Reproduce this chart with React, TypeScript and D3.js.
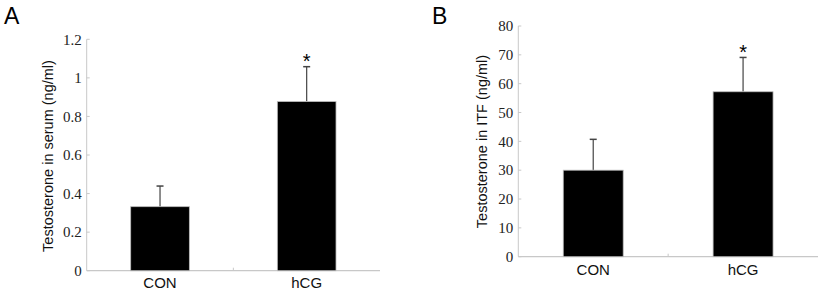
import React from "react";
import * as d3 from "d3";

const categories = ["CON", "hCG"];
const serumMeans = [0.332, 0.877];
const serumErrors = [0.107, 0.181];
const serumTicks = [0, 0.2, 0.4, 0.6, 0.8, 1, 1.2];
const itfMeans = [30, 57.2];
const itfErrors = [10.7, 11.9];
const itfTicks = [0, 10, 20, 30, 40, 50, 60, 70, 80];
const significant = [false, true];

const SANS = "'Liberation Sans', Arial, sans-serif";
const SERIF = "'Liberation Serif', 'Times New Roman', serif";

interface PanelProps {
  letter: string;
  letterX: number;
  x0: number;
  x1: number;
  yTop: number;
  yBottom: number;
  max: number;
  ticks: number[];
  means: number[];
  errors: number[];
  ylabel: string;
  labelX: number;
  labelY: number;
  xLabelY: number;
}

function Panel(p: PanelProps) {
  const y = d3.scaleLinear().domain([0, p.max]).range([p.yBottom, p.yTop]);
  const x = d3.scaleBand<string>().domain(categories).range([p.x0, p.x1]).paddingInner(0.6).paddingOuter(0.3);
  const axisColor = "#c8c8c8";
  const fmt = (v: number) => String(v);
  return (
    <g>
      <text x={p.letterX} y={24} style={{ fontFamily: SANS }} fontSize={23}>{p.letter}</text>
      <line x1={p.x0} x2={p.x0} y1={p.yTop} y2={p.yBottom} stroke={axisColor} strokeWidth={1} />
      <line x1={p.x0} x2={p.x1} y1={p.yBottom} y2={p.yBottom} stroke={axisColor} strokeWidth={1.2} />
      {p.ticks.map((t) => (
        <g key={t}>
          <line x1={p.x0} x2={p.x0 + 3} y1={y(t)} y2={y(t)} stroke={axisColor} />
          <text x={p.x0 - 5} y={y(t)} dy="0.35em" textAnchor="end" style={{ fontFamily: SERIF }} fontSize={15} fill="#222">{fmt(t)}</text>
        </g>
      ))}
      <line x1={(p.x0 + p.x1) / 2} x2={(p.x0 + p.x1) / 2} y1={p.yBottom} y2={p.yBottom - 3} stroke={axisColor} />
      {categories.map((c, i) => {
        const bx = x(c)!;
        const bw = x.bandwidth();
        const cx = bx + bw / 2;
        const top = y(p.means[i]);
        const et = y(p.means[i] + p.errors[i]);
        return (
          <g key={c}>
            <line x1={cx} x2={cx} y1={top} y2={et} stroke="#444" strokeWidth={1.2} />
            <line x1={cx - 3.5} x2={cx + 3.5} y1={et} y2={et} stroke="#444" strokeWidth={1.5} />
            <rect x={bx} y={top} width={bw} height={p.yBottom - top} fill="#000" stroke="#bbb" strokeWidth={0.8} />
            {significant[i] && (
              <text x={cx} y={et + 1.5} textAnchor="middle" style={{ fontFamily: SANS }} fontSize={20}>*</text>
            )}
            <text x={cx} y={p.xLabelY} textAnchor="middle" style={{ fontFamily: SANS }} fontSize={15} fill="#111">{c}</text>
          </g>
        );
      })}
      <text transform={`translate(${p.labelX},${p.labelY}) rotate(-90)`} textAnchor="middle" dy="0.35em" style={{ fontFamily: SANS }} fontSize={14.5} fill="#111">{p.ylabel}</text>
    </g>
  );
}

export default function App() {
  return (
    <svg width={827} height={290} style={{ position: "absolute", left: 0, top: 0, background: "#fff" }}>
      <Panel letter="A" letterX={4} x0={86.7} x1={380} yTop={39.3} yBottom={270.7} max={1.2} ticks={serumTicks}
        means={serumMeans} errors={serumErrors} ylabel="Testosterone in serum (ng/ml)" labelX={48} labelY={156} xLabelY={288} />
      <Panel letter="B" letterX={432} x0={518.3} x1={818} yTop={26} yBottom={256.7} max={80} ticks={itfTicks}
        means={itfMeans} errors={itfErrors} ylabel="Testosterone in ITF (ng/ml)" labelX={482} labelY={141.5} xLabelY={275} />
    </svg>
  );
}
